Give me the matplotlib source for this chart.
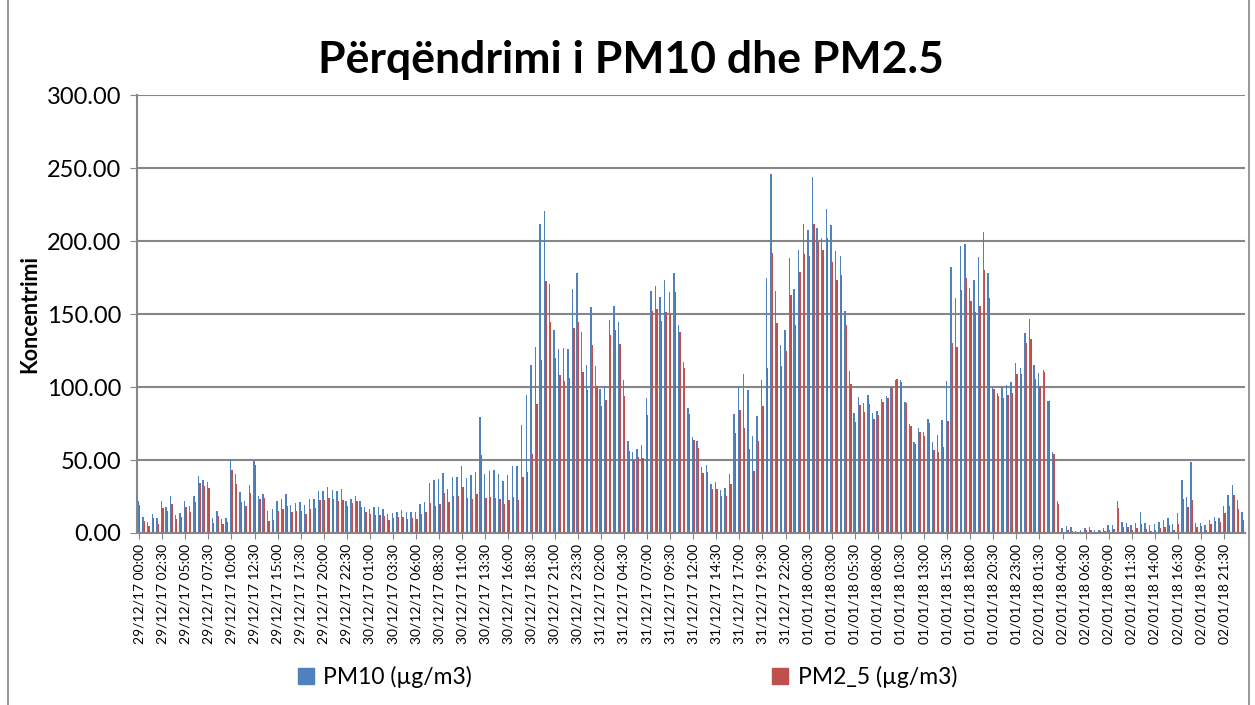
import numpy as np
import matplotlib
matplotlib.use("Agg")
import matplotlib.pyplot as plt
from matplotlib.patches import Rectangle, Patch
from datetime import datetime, timedelta

# half-hourly readings, 29/12/17 00:00 .. 02/01/18 23:30
pm10 = [
    22, 11, 7.5, 13, 10.5, 22, 18, 25, 12.5, 14,
    21.7, 18.5, 25, 39, 36, 35, 10.5, 15, 9.4, 10.5,
    51, 40.6, 28.3, 21.9, 33.1, 49.3, 25.3, 26.9, 15.3, 16.7,
    22.1, 23.5, 26.9, 19.4, 20.8, 21.5, 19.4, 23.1, 23.1, 29,
    29, 31.5, 29.6, 28.5, 30.1, 21.9, 23.5, 25.6, 21.9, 17.8,
    16.7, 17.6, 17.6, 16.2, 13, 13.9, 14.6, 15.8, 14.2, 14.4,
    14.6, 20.1, 21.5, 34, 36.5, 37, 41.1, 30.4, 38.6, 38.1,
    46.1, 37.4, 40, 42, 79.7, 40.6, 42.7, 43.4, 40.4, 35.6,
    40, 46.1, 45.7, 74, 94.3, 115, 127.6, 211.4, 220.7, 170.4,
    139.2, 126, 126.7, 126.2, 167, 177.9, 137.6, 115.3, 154.7, 114.1,
    98.6, 100.5, 146.2, 155.4, 144.9, 104.8, 62.7, 55.4, 57.4, 60.6,
    92.3, 166, 169.5, 162, 173.6, 165, 178.4, 142.6, 116.9, 85.4,
    65.8, 62.9, 45.1, 46.5, 33.7, 34.9, 29.6, 30.8, 40.3, 81.2,
    101, 108.7, 98.2, 66.3, 80, 104.8, 174.5, 245.8, 165.6, 128.7,
    139.2, 188.6, 167.2, 194.1, 212, 207.3, 244, 209.3, 202, 222.1,
    211.2, 193, 189.5, 152.4, 110.9, 82.2, 93.2, 88.8, 94.3, 82,
    83.6, 91.8, 93.6, 99.8, 104.6, 104.6, 89.7, 74.5, 62.2, 71.8,
    69, 77.9, 62.2, 67.2, 77.4, 103.9, 182.2, 161, 196.8, 197.7,
    168.1, 173.6, 189.3, 206.2, 178.1, 99.8, 95.7, 100.2, 101.1, 103.6,
    116.2, 113.2, 136.7, 146.5, 115, 109.6, 111.6, 90.7, 55.4, 22.1,
    3.6, 5, 4.1, 1.6, 1.8, 3.6, 4.3, 1.8, 2, 3.7,
    5.7, 5.5, 22.2, 7.6, 7.1, 5.3, 6.9, 14.7, 6.9, 5.5,
    6.2, 7.6, 9.2, 10.6, 6.2, 13.5, 36.5, 24.5, 48.4, 6.9,
    7.1, 5.3, 8.9, 11.2, 10.6, 18.6, 26.1, 32.8, 22.9, 14.4,
]
pm25 = [
    19, 8, 4.5, 10, 6, 17, 15, 20, 9.4, 11,
    18, 14.6, 21.5, 34, 32.4, 31, 7, 11.4, 6.4, 7.8,
    43, 33.8, 21.2, 18.3, 27.6, 46.8, 23.1, 24.2, 8.4, 8.9,
    14.8, 16.2, 18.3, 14.4, 15.3, 15.3, 13, 16.2, 16.9, 22.8,
    22.8, 24, 23.5, 21.9, 22.8, 18.7, 20.3, 21.7, 18, 14.4,
    13, 12.6, 12.6, 11.9, 9.1, 10.3, 11.2, 11.2, 9.8, 10.3,
    9.8, 13.2, 14.6, 20.3, 18.7, 20.1, 27.4, 21.5, 25.1, 25.6,
    31.5, 24.2, 23.3, 26.9, 53.4, 24.2, 24.4, 24.2, 23.3, 19.6,
    22.8, 24.9, 22.6, 38.6, 41.6, 54.2, 88.2, 118.5, 173, 144.6,
    120, 108, 103.9, 106, 140.8, 144.6, 110.3, 98, 128.7, 100.7,
    86.8, 91.1, 135.5, 139.2, 129.8, 93.8, 56.2, 50.1, 51.9, 51.7,
    81.1, 152, 153.3, 145.3, 151.3, 150.1, 164.9, 137.8, 112.8, 81.8,
    63.6, 58.3, 40.8, 42.1, 30.1, 30.1, 25.5, 25.3, 33.8, 68.8,
    84.3, 72, 57.4, 42.4, 63.3, 87, 113.2, 192, 144.2, 114.4,
    124.6, 163.1, 142.6, 178.6, 190.9, 190, 212, 200, 193.6, 201.8,
    185.6, 173.3, 176.8, 142.6, 102, 76.1, 87.5, 82.9, 88.2, 77.9,
    80.9, 89.5, 92.3, 100.2, 105.2, 103.2, 89.3, 73.1, 61, 69,
    66.4, 75.6, 56.7, 55.6, 59.2, 76.8, 130.5, 127.6, 166.3, 174.5,
    158.8, 151.5, 155.4, 180, 160.8, 98.4, 93.8, 92.5, 94.3, 95.7,
    108.7, 108.7, 130.5, 133, 105.5, 100.7, 110.3, 90.7, 54.4, 19.8,
    0.7, 2.3, 1.6, 0.7, 0.9, 1.8, 1.8, 0.9, 1.1, 1.2,
    2.3, 2.5, 17.2, 4.4, 3.9, 1.8, 3.4, 6.4, 3, 1.6,
    2.3, 3.4, 4.1, 5.7, 2.3, 6.4, 23.6, 17.7, 22.9, 3.9,
    4.6, 2.3, 6.4, 8, 7.8, 14, 18.8, 25.9, 16.1, 9.2,
]

start = datetime(2017, 12, 29, 0, 0)
times = [start + timedelta(minutes=30 * i) for i in range(len(pm10))]
tick_idx = list(range(0, len(times), 5))
tick_labels = [times[i].strftime("%d/%m/%y %H:%M") for i in tick_idx]

plt.rcParams["font.family"] = ["Lato", "DejaVu Sans"]

fig = plt.figure(figsize=(12.55, 7.05), dpi=100)
fig.patches.append(Rectangle((0.006, -0.01), 0.989, 1.02, transform=fig.transFigure,
                             fill=False, edgecolor="#868686", linewidth=1.2))

ax = fig.add_axes([0.109, 0.244, 0.883, 0.621])
x = np.arange(len(pm10))
w = 0.3
ax.bar(x - w / 2, pm10, width=w, color="#4F81BD", label="PM10 (µg/m3)")
ax.bar(x + w / 2, pm25, width=w, color="#C0504D", label="PM2_5 (µg/m3)")

ax.set_xlim(-0.5, len(pm10) - 0.5)
ax.set_ylim(0, 300)
ax.set_yticks(np.arange(0, 301, 50))
ax.set_yticklabels([f"{v:.2f}" for v in np.arange(0, 301, 50)], fontsize=17)
ax.set_xticks(tick_idx)
ax.set_xticklabels(tick_labels, rotation=90, fontsize=10)
ax.yaxis.grid(True, color="#868686", linewidth=1.5)
ax.set_axisbelow(True)
for s in ["top", "right"]:
    ax.spines[s].set_visible(False)
for s in ["left", "bottom"]:
    ax.spines[s].set_color("#868686")
    ax.spines[s].set_linewidth(1.5)
ax.tick_params(axis="y", length=5, color="#868686", pad=6)
ax.tick_params(axis="x", length=4, color="#868686", pad=4)

ax.set_ylabel("Koncentrimi", fontsize=15.5, fontweight="bold")
ax.yaxis.set_label_coords(-0.087, 0.5)
fig.suptitle("Përqëndrimi i PM10 dhe PM2.5", fontsize=32, fontweight="bold", y=0.915,
             x=0.503, va="center")

handles = [Patch(color="#4F81BD"), Patch(color="#C0504D")]
fig.legend(handles, ["PM10 (µg/m3)", "PM2_5 (µg/m3)"], loc="center",
           bbox_to_anchor=(0.5, 0.04), ncol=2, frameon=False, fontsize=16.5,
           handlelength=0.7, handleheight=0.7, handletextpad=0.4, columnspacing=13.1)

fig.savefig("out.png", dpi=100)
